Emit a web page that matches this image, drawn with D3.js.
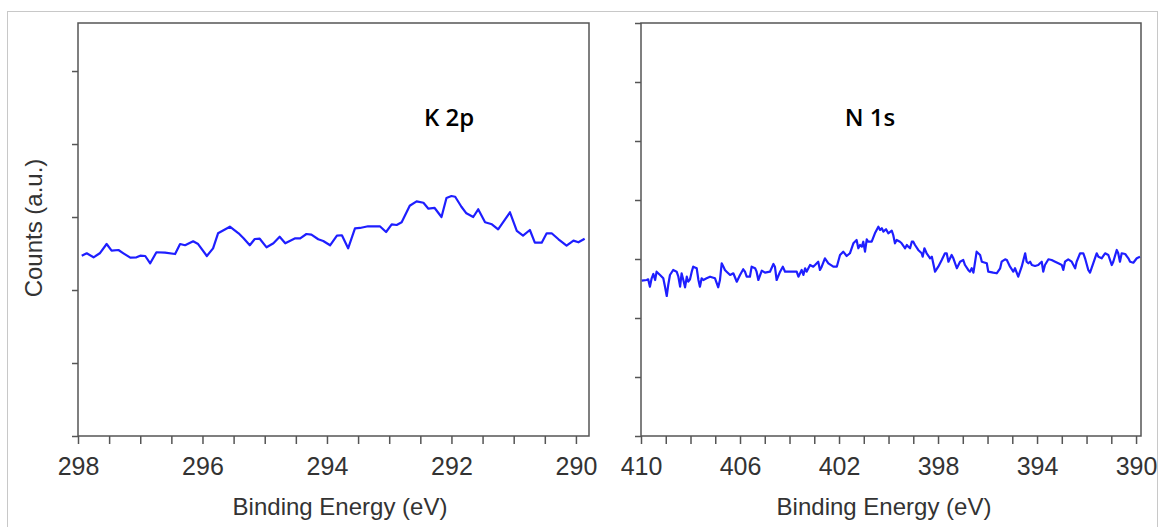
<!DOCTYPE html>
<html>
<head>
<meta charset="utf-8">
<script src="https://cdn.jsdelivr.net/npm/d3@7"></script>
<style>
  body { margin: 0; background: #fff; }
  svg { display: block; }
  .tick text { font-family: "Liberation Sans", Arial, sans-serif; font-size: 25px; fill: #333; }
  .tick line { stroke: #555; stroke-width: 1.5; }
</style>
</head>
<body>
<svg id="chart" width="1161" height="527"></svg>
<script>
// K 2p spectrum (binding energy in eV, counts in arbitrary units)
const k2pEnergy = [297.94,297.86,297.75,297.65,297.54,297.46,297.35,297.27,297.16,297.06,
  297.0,296.92,296.84,296.74,296.60,296.44,296.36,296.28,296.15,296.07,
  295.93,295.83,295.75,295.56,295.42,295.34,295.24,295.16,295.08,294.97,
  294.86,294.76,294.67,294.59,294.51,294.43,294.33,294.25,294.14,294.06,
  293.95,293.84,293.76,293.66,293.55,293.47,293.34,293.15,293.05,292.96,
  292.88,292.80,292.67,292.56,292.45,292.37,292.27,292.16,292.08,292.00,
  291.94,291.84,291.76,291.65,291.57,291.46,291.35,291.25,291.06,290.95,
  290.85,290.74,290.66,290.55,290.47,290.39,290.28,290.15,290.04,289.96,
  289.86];
const k2pCounts = [2470,2503,2448,2503,2630,2539,2548,2503,2443,2448,
  2470,2466,2366,2517,2511,2493,2630,2613,2667,2630,
  2466,2571,2777,2867,2777,2708,2613,2699,2703,2585,
  2640,2730,2640,2676,2708,2708,2767,2758,2695,2672,
  2613,2744,2750,2571,2845,2850,2873,2873,2795,2900,
  2891,2928,3155,3215,3196,3114,3124,3000,3261,3288,
  3278,3141,3051,3000,3106,2928,2900,2832,3065,2809,
  2744,2822,2648,2648,2777,2777,2695,2607,2676,2654,
  2703];

// N 1s spectrum
const n1sEnergy = [409.97,409.77,409.71,409.64,409.57,409.50,409.43,409.37,409.23,409.16,
  409.10,409.03,408.96,408.90,408.83,408.70,408.56,408.49,408.42,408.36,
  408.29,408.22,408.15,408.09,408.02,407.95,407.89,407.75,407.68,407.62,
  407.55,407.48,407.35,407.21,407.01,406.88,406.81,406.74,406.67,406.61,
  406.54,406.40,406.27,406.13,406.00,405.87,405.80,405.73,405.60,405.53,
  405.39,405.33,405.26,405.12,404.99,404.79,404.65,404.59,404.52,404.38,
  404.27,404.18,403.85,403.71,403.64,403.51,403.44,403.37,403.31,403.17,
  403.04,402.97,402.84,402.77,402.70,402.57,402.43,402.23,402.09,401.96,
  401.83,401.69,401.56,401.42,401.29,401.22,401.15,401.08,401.02,400.95,
  400.88,400.82,400.68,400.55,400.41,
  400.34,400.27,400.21,400.10,400.01,399.87,399.81,399.74,399.67,399.54,
  399.47,399.33,399.26,399.20,399.13,399.06,399.00,398.93,398.80,398.66,
  398.62,398.55,398.46,398.32,398.25,398.12,397.99,397.85,397.72,397.65,
  397.58,397.45,397.38,397.24,397.11,396.98,396.91,396.78,396.71,396.64,
  396.57,396.44,396.30,396.23,396.03,395.97,395.77,395.63,395.49,395.43,
  395.29,395.22,395.09,394.96,394.89,394.76,394.62,394.48,394.42,394.35,
  394.28,394.21,394.08,393.95,393.88,393.81,393.75,393.68,393.54,393.41,
  393.27,393.14,393.00,392.94,392.87,392.74,392.60,392.46,392.40,392.26,
  392.13,392.06,391.93,391.86,391.73,391.59,391.52,391.39,391.25,391.12,
  390.98,390.92,390.78,390.72,390.65,390.58,390.44,390.31,390.24,390.11,
  389.97,389.84];
const n1sCounts = [2632,2644,2656,2531,2673,2746,2644,2785,2729,2700,
  2673,2531,2373,2559,2729,2814,2785,2700,2531,2758,
  2644,2520,2700,2615,2656,2785,2870,2843,2644,2531,
  2673,2644,2673,2700,2673,2520,2644,2927,2870,2814,
  2785,2729,2758,2615,2729,2826,2785,2700,2700,2870,
  2843,2785,2644,2802,2768,2785,2915,2870,2644,2785,
  2870,2785,2785,2785,2700,2814,2729,2843,2785,2898,
  2870,2898,2954,2814,2870,3012,2927,2870,2870,3068,
  3124,3051,3097,3266,3322,3182,3237,3209,3293,3124,
  3334,3293,3293,3436,3548,
  3492,3521,3463,3504,3436,3480,3407,3266,3322,3293,
  3266,3182,3237,3209,3182,3293,3293,3237,3153,3097,
  3039,3182,3097,3012,3039,2785,2870,2983,3097,3097,
  2954,3068,3012,2843,2954,2983,2898,2814,2785,2843,
  2768,3124,3068,2954,2927,2785,2768,2758,2843,2954,
  2995,2983,2870,2785,2843,2700,2870,3097,2954,2927,
  2954,2898,2882,2898,2927,2954,2785,2898,2995,2983,
  2954,2927,2898,2814,2954,2995,2954,2843,2954,3097,
  3097,3012,2814,2768,2927,3097,3039,3012,3097,3068,
  2898,2954,3153,3097,2954,3097,3085,3012,2954,2937,
  3012,3039];

const plotTop = 23, plotBottom = 436;
const svg = d3.select("#chart");

// light outer border
svg.append("rect")
  .attr("x", 7.5).attr("y", 11.5)
  .attr("width", 1150).attr("height", 540)
  .attr("fill", "none").attr("stroke", "#c8c8c8");

const panels = [
  {
    energy: k2pEnergy, counts: k2pCounts, label: "K 2p",
    left: 78, right: 589, xDomain: [298, 289.79],
    xTicks: d3.range(290, 298.01, 0.5), labelEvery: 2,
    yMax: 5658, yTicks: d3.range(0, 5001, 1000),
    labelPos: [449, 126], titleX: 340
  },
  {
    energy: n1sEnergy, counts: n1sCounts, label: "N 1s",
    left: 641, right: 1141, xDomain: [410, 389.8],
    xTicks: d3.range(390, 410.01, 1), labelEvery: 4,
    yMax: 7000, yTicks: d3.range(0, 7001, 1000),
    labelPos: [870, 126], titleX: 884
  }
];

panels.forEach(p => {
  const x = d3.scaleLinear().domain(p.xDomain).range([p.left, p.right]);
  const y = d3.scaleLinear().domain([0, p.yMax]).range([plotBottom, plotTop]);
  const start = p.xDomain[0];

  const g = svg.append("g");

  g.append("g")
    .attr("transform", `translate(0,${plotBottom})`)
    .call(d3.axisBottom(x)
      .tickValues(p.xTicks)
      .tickSize(8)
      .tickPadding(13)
      .tickFormat(d => Math.abs((start - d) % p.labelEvery) < 1e-6 ? d3.format("d")(d) : ""))
    .call(g => g.select(".domain").remove());

  g.append("g")
    .attr("transform", `translate(${p.left},0)`)
    .call(d3.axisLeft(y).tickValues(p.yTicks).tickSize(6).tickFormat(""))
    .call(g => g.select(".domain").remove());

  g.append("rect")
    .attr("x", p.left).attr("y", plotTop)
    .attr("width", p.right - p.left).attr("height", plotBottom - plotTop)
    .attr("fill", "none").attr("stroke", "#555").attr("stroke-width", 1.5);

  const line = d3.line().x(d => x(d[0])).y(d => y(d[1]));
  g.append("path")
    .datum(d3.zip(p.energy, p.counts))
    .attr("fill", "none")
    .attr("stroke", "#1e1eff")
    .attr("stroke-width", 2.2)
    .attr("stroke-linejoin", "round")
    .attr("d", line);

  g.append("text")
    .attr("x", p.labelPos[0]).attr("y", p.labelPos[1])
    .attr("text-anchor", "middle")
    .style("font-family", "'Open Sans', 'Noto Sans', sans-serif")
    .style("font-size", "24px")
    .style("font-weight", 600)
    .attr("fill", "#000")
    .text(p.label);

  g.append("text")
    .attr("x", p.titleX).attr("y", 515)
    .attr("text-anchor", "middle")
    .style("font-family", "'Liberation Sans', Arial, sans-serif")
    .style("font-size", "24px")
    .attr("fill", "#333")
    .text("Binding Energy (eV)");
});

svg.append("text")
  .attr("transform", "translate(42,228) rotate(-90)")
  .attr("text-anchor", "middle")
  .style("font-family", "'Liberation Sans', Arial, sans-serif")
  .style("font-size", "24px")
  .attr("fill", "#333")
  .text("Counts (a.u.)");
</script>
</body>
</html>
